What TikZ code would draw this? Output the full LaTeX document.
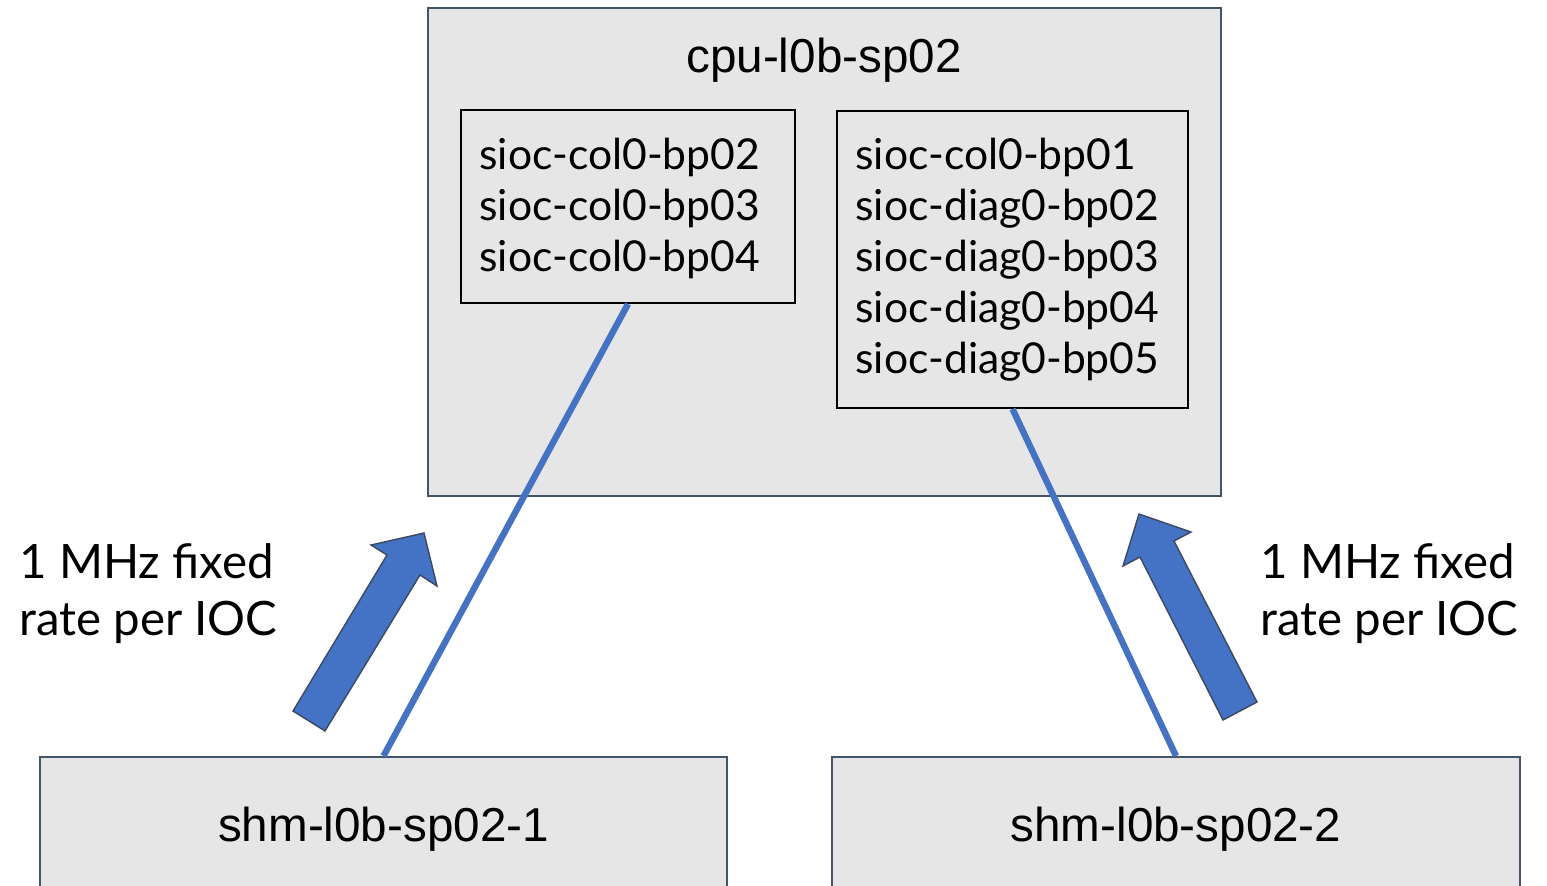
\documentclass[tikz,border=0pt]{standalone}
\usepackage{fontspec}
\setmainfont{Liberation Sans}
\newfontfamily\latofont{Lato}
\definecolor{boxfill}{HTML}{E7E6E6}
\definecolor{boxedge}{HTML}{44546A}
\definecolor{linkblue}{HTML}{4472C4}
\definecolor{arrowedge}{HTML}{3B4A60}
\tikzset{
  hostbox/.style={draw=boxedge, line width=1pt, fill=boxfill, inner sep=0pt,
    font=\fontsize{23.8}{28}\selectfont},
  iocbox/.style={draw=black, line width=1pt, fill=boxfill, inner sep=0pt},
  ioclist/.style={anchor=north west, align=left, inner sep=0pt,
    font=\latofont\fontsize{21.3}{25.5}\selectfont},
  ratelabel/.style={anchor=north west, align=left, inner sep=0pt,
    font=\latofont\fontsize{23.7}{28.5}\selectfont},
  link/.style={draw=linkblue, line width=3.2pt},
  flowarrow/.style={fill=linkblue, draw=arrowedge, line width=0.7pt, line join=miter},
}
\begin{document}
\begin{tikzpicture}[x=0.5pt, y=-0.5pt]
  \useasboundingbox (0,0) rectangle (1547,885);
  \clip (0,0) rectangle (1547,885);

  % CPU host with its two IOC groups
  \node[hostbox, minimum width=396.5pt, minimum height=244pt] (cpu) at (824.5,252) {};
  \node[inner sep=0pt, anchor=base, font=\fontsize{23.8}{28}\selectfont] (cputitle) at (824,72) {cpu-l0b-sp02};
  \node[iocbox, minimum width=167pt, minimum height=96.5pt] (lbox) at (628,206.5) {};
  \node[iocbox, minimum width=175.5pt, minimum height=148.5pt] (rbox) at (1012.5,259.5) {};
  \node[ioclist] (ltext) at (479,138) {sioc-col0-bp02\\sioc-col0-bp03\\sioc-col0-bp04};
  \node[ioclist] (rtext) at (855,138) {sioc-col0-bp01\\sioc-diag0-bp02\\sioc-diag0-bp03\\sioc-diag0-bp04\\sioc-diag0-bp05};

  % shared-memory hosts
  \node[hostbox, minimum width=343.5pt, minimum height=68pt] (shm1) at (383.5,825) {};
  \node[hostbox, minimum width=344pt, minimum height=68pt] (shm2) at (1176,825) {};
  \node[inner sep=0pt, anchor=base, font=\fontsize{23.8}{28}\selectfont] (shm1label) at (383.5,841) {shm-l0b-sp02-1};
  \node[inner sep=0pt, anchor=base, font=\fontsize{23.8}{28}\selectfont] (shm2label) at (1176,841) {shm-l0b-sp02-2};

  % links
  \draw[link] (lbox.south) -- (shm1.north);
  \draw[link] (rbox.south) -- (shm2.north);

  % data-flow block arrows
  \filldraw[flowarrow] (293,711) -- (387,555) -- (371,545) -- (424,533) -- (437,586)
    -- (420,575) -- (325,731) -- cycle;
  \filldraw[flowarrow] (1223,720) -- (1140,557) -- (1123,566) -- (1139,514) -- (1191,532)
    -- (1174,541) -- (1257,702) -- cycle;

  % rate labels
  \node[ratelabel] (lrate) at (19,543) {1 MHz fixed\\rate per IOC};
  \node[ratelabel] (rrate) at (1260,543) {1 MHz fixed\\rate per IOC};
\end{tikzpicture}
\end{document}
